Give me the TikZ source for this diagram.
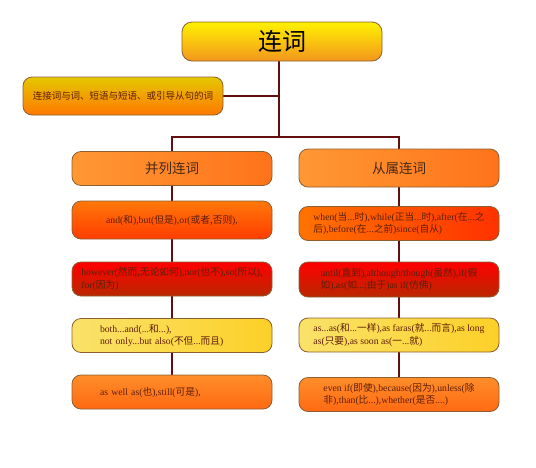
\documentclass[tikz,border=0pt]{standalone}
\usepackage{fontspec}
\setmainfont{Liberation Serif}
\newfontfamily\cjk{Noto Sans CJK SC}
\usepackage{tikz}
\usetikzlibrary{backgrounds}
\definecolor{wire}{RGB}{100,15,15}
\definecolor{rim}{RGB}{140,95,50}
\definecolor{ink}{RGB}{95,30,10}
\newcommand{\zh}[1]{{\cjk #1}}
\tikzset{
  box/.style={draw=rim, line width=0.8pt, rounded corners=9pt, minimum width=200pt, minimum height=34pt, inner sep=3pt, align=left, text=ink, font=\fontsize{9.7}{12.7}\selectfont},
  root/.style={box, minimum height=39pt, rounded corners=10pt, text=black, font=\fontsize{24}{28}\selectfont\cjk, top color={rgb,255:red,255;green,242;blue,0}, bottom color={rgb,255:red,243;green,150;blue,30}},
  note/.style={box, minimum height=38pt, font=\fontsize{9.5}{12}\selectfont\cjk, top color={rgb,255:red,228;green,200;blue,0}, bottom color={rgb,255:red,255;green,120;blue,0}},
  cat/.style={box, font=\fontsize{13.5}{16}\selectfont\cjk, text={rgb,255:red,70;green,40;blue,20}, left color={rgb,255:red,255;green,152;blue,52}, right color={rgb,255:red,255;green,115;blue,25}},
  hot/.style={box, top color={rgb,255:red,255;green,120;blue,10}, bottom color={rgb,255:red,255;green,60;blue,0}},
  hotside/.style={box, left color={rgb,255:red,255;green,115;blue,0}, right color={rgb,255:red,255;green,50;blue,0}},
  red/.style={box, top color={rgb,255:red,255;green,0;blue,0}, bottom color={rgb,255:red,185;green,40;blue,0}},
  pale/.style={box, left color={rgb,255:red,250;green,226;blue,105}, right color={rgb,255:red,252;green,208;blue,40}},
  warm/.style={box, top color={rgb,255:red,255;green,142;blue,42}, bottom color={rgb,255:red,255;green,105;blue,18}},
  indent/.style={text width=144pt, inner xsep=28pt},
  link/.style={draw=wire, line width=1.6pt},
}

\begin{document}
\begin{tikzpicture}[x=1pt, y=-1pt]
  \useasboundingbox (0,0) rectangle (536,467);

  \node[root] (root) at (282,41.5) {连词};
  \node[note] (desc) at (123,96) {连接词与词、短语与短语、或引导从句的词};

  \node[cat] (para) at (172,168.5) {并列连词};
  \node[cat, minimum height=38pt] (sub) at (399,168) {从属连词};

  \node[hot, minimum height=38pt] (p1) at (172,220) {and(\zh{和}),but(\zh{但是}),or(\zh{或者,否则}),};
  \node[red] (p2) at (172,279) {however(\zh{然而,无论如何}),nor(\zh{也不}),so(\zh{所以}),\\for(\zh{因为})};
  \node[pale, indent] (p3) at (172,335.5) {both...and(...\zh{和}...),\\not only...but also(\zh{不但}...\zh{而且})};
  \node[warm, indent] (p4) at (172,392) {as well as(\zh{也}),still(\zh{可是}),};

  \node[hotside] (s1) at (399,223.5) {when(\zh{当}...\zh{时}),while(\zh{正当}...\zh{时}),after(\zh{在}...\zh{之}\\\zh{后}),before(\zh{在}...\zh{之前})since(\zh{自从})};
  \node[red, minimum height=35pt] (s2) at (399,279.5) {until(\zh{直到}),although/though(\zh{虽然}),if(\zh{假}\\\zh{如}),as(\zh{如}...;\zh{由于})as if(\zh{仿佛})};
  \node[pale] (s3) at (399,335) {as...as(\zh{和}...\zh{一样}),as faras(\zh{就}...\zh{而言}),as long\\as(\zh{只要}),as soon as(\zh{一}...\zh{就})};
  \node[warm] (s4) at (399,394.5) {even if(\zh{即使}),because(\zh{因为}),unless(\zh{除}\\\zh{非}),than(\zh{比}...),whether(\zh{是否}....)};

  \begin{pgfonlayer}{background}
    \coordinate (fork) at (279,137);
    \draw[link] (root.south -| fork) -- (fork);
    \draw[link] (desc.east) -- (desc.east -| fork);
    \draw[link] (fork) -| (para.north);
    \draw[link] (fork) -| (sub.north);
    \draw[link] (para) -- (p4);
    \draw[link] (sub) -- (s4);
  \end{pgfonlayer}
\end{tikzpicture}
\end{document}
